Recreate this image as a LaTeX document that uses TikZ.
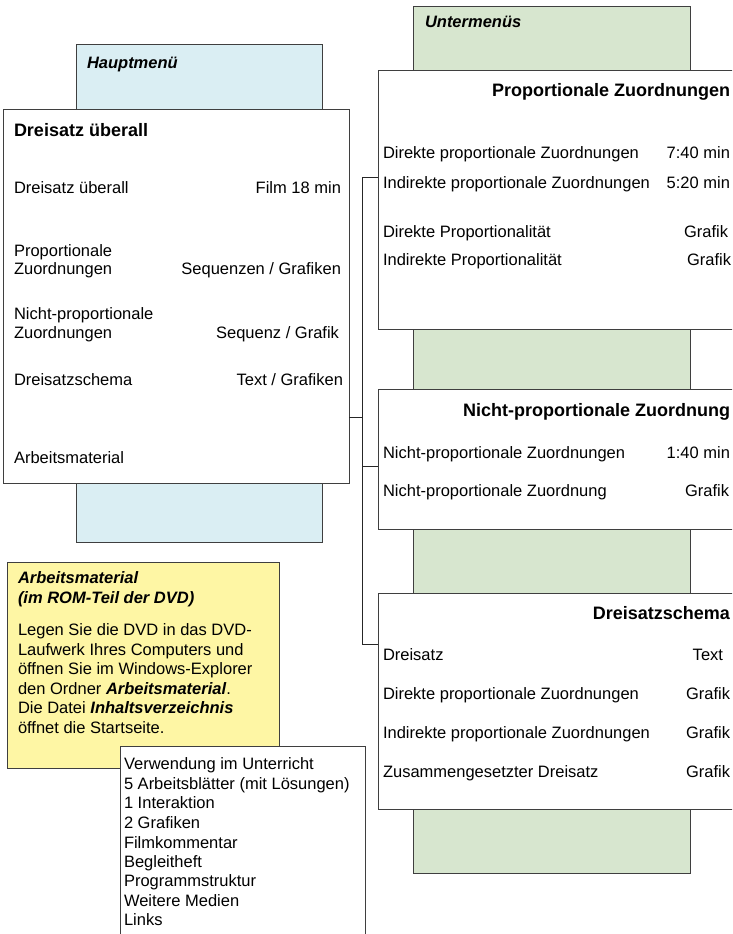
\documentclass[tikz,border=0pt]{standalone}
\usepackage{fontspec}
\setmainfont{Liberation Sans}
\definecolor{bluebg}{HTML}{DAEEF3}
\definecolor{greenbg}{HTML}{D7E6CF}
\definecolor{yellowbg}{HTML}{FEF6A4}
\definecolor{edge}{HTML}{3F3F3F}
\begin{document}
\begin{tikzpicture}[x=1pt,y=-1pt,
  frame/.style={draw=edge,line width=1pt,inner sep=0pt,outer sep=0pt,anchor=north west},
  conn/.style={draw=black!85,line width=1.1pt},
  txt/.style={inner sep=0pt,outer sep=0pt,font=\fontsize{16.5}{19.5}\selectfont},
  hd/.style={inner sep=0pt,outer sep=0pt,font=\fontsize{18}{21}\selectfont\bfseries},
  ihd/.style={inner sep=0pt,outer sep=0pt,font=\fontsize{16.5}{19.5}\selectfont\bfseries\itshape},
  L/.style={anchor=base west},
  R/.style={anchor=base east}]
\useasboundingbox (0,0) rectangle (732,934);
\clip (0,0) rectangle (732,934);

% background panels
\node[frame,fill=bluebg,minimum width=246pt,minimum height=497pt] (blue) at (76,45) {};
\node[frame,fill=greenbg,minimum width=277pt,minimum height=866pt] (green) at (413,7) {};
\node[ihd,L] (hm) at (87,68) {Hauptmenü};
\node[ihd,L] (um) at (425,28) {Untermenüs};

% main menu box
\node[frame,fill=white,minimum width=346pt,minimum height=374pt] (main) at (3,109) {};
\node[hd,L] (m0) at (14,136.5) {Dreisatz überall};
\node[txt,L] (m1) at (14,193) {Dreisatz überall};
\node[txt,R] (m1r) at (341,193) {Film 18 min};
\node[txt,L] (m2a) at (14,256) {Proportionale};
\node[txt,L] (m2b) at (14,274) {Zuordnungen};
\node[txt,R] (m2r) at (341,274) {Sequenzen / Grafiken};
\node[txt,L] (m3a) at (14,319) {Nicht-proportionale};
\node[txt,L] (m3b) at (14,338) {Zuordnungen};
\node[txt,R] (m3r) at (339,338) {Sequenz / Grafik};
\node[txt,L] (m4) at (14,385) {Dreisatzschema};
\node[txt,R] (m4r) at (343,385) {Text / Grafiken};
\node[txt,L] (m5) at (14,463) {Arbeitsmaterial};

% submenu boxes
\node[frame,fill=white,minimum width=400pt,minimum height=258pt] (b1) at (378,71) {};
\node[hd,R] (b1h) at (730,96.5) {Proportionale Zuordnungen};
\node[txt,L] (b11) at (383,158) {Direkte proportionale Zuordnungen};
\node[txt,R] (b11r) at (730,158) {7:40 min};
\node[txt,L] (b12) at (383,188) {Indirekte proportionale Zuordnungen};
\node[txt,R] (b12r) at (730,188) {5:20 min};
\node[txt,L] (b13) at (383,237) {Direkte Proportionalität};
\node[txt,R] (b13r) at (728,237) {Grafik};
\node[txt,L] (b14) at (383,265) {Indirekte Proportionalität};
\node[txt,R] (b14r) at (731,265) {Grafik};

\node[frame,fill=white,minimum width=400pt,minimum height=140pt] (b2) at (378,389) {};
\node[hd,R] (b2h) at (730,416.5) {Nicht-proportionale Zuordnung};
\node[txt,L] (b21) at (383,458) {Nicht-proportionale Zuordnungen};
\node[txt,R] (b21r) at (730,458) {1:40 min};
\node[txt,L] (b22) at (383,496) {Nicht-proportionale Zuordnung};
\node[txt,R] (b22r) at (729,496) {Grafik};

\node[frame,fill=white,minimum width=400pt,minimum height=216pt] (b3) at (378,593) {};
\node[hd,R] (b3h) at (730,619.5) {Dreisatzschema};
\node[txt,L] (b31) at (383,660) {Dreisatz};
\node[txt,R] (b31r) at (723,660) {Text};
\node[txt,L] (b32) at (383,699) {Direkte proportionale Zuordnungen};
\node[txt,R] (b32r) at (730,699) {Grafik};
\node[txt,L] (b33) at (383,738) {Indirekte proportionale Zuordnungen};
\node[txt,R] (b33r) at (730,738) {Grafik};
\node[txt,L] (b34) at (383,777) {Zusammengesetzter Dreisatz};
\node[txt,R] (b34r) at (730,777) {Grafik};

% connectors
\coordinate (j) at (362.5,417.5);
\draw[conn] (main.east |- j) -- (j);
\draw[conn] (b1.west |- 0,177.5) -| (j) |- (b3.west |- 0,644.5);
\draw[conn] (j |- 0,466.5) -- (b2.west |- 0,466.5);

% Arbeitsmaterial note
\node[frame,fill=yellowbg,minimum width=272pt,minimum height=206pt] (yel) at (7,562) {};
\node[ihd,L] (y1) at (18,583) {Arbeitsmaterial};
\node[ihd,L] (y2) at (18,603) {(im ROM-Teil der DVD)};
\node[txt,L] (y3) at (18,635) {Legen Sie die DVD in das DVD-};
\node[txt,L] (y4) at (18,655) {Laufwerk Ihres Computers und};
\node[txt,L] (y5) at (18,674) {öffnen Sie im Windows-Explorer};
\node[txt,L] (y6) at (18,694) {den Ordner \textbf{\textit{Arbeitsmaterial}}.};
\node[txt,L] (y7) at (18,713) {Die Datei \textbf{\textit{Inhaltsverzeichnis}}};
\node[txt,L] (y8) at (18,733) {öffnet die Startseite.};

% list box
\node[frame,fill=white,minimum width=245pt,minimum height=230pt] (lst) at (120,746) {};
\node[txt,L] (l1) at (124,769) {Verwendung im Unterricht};
\node[txt,L] (l2) at (124,789) {5 Arbeitsblätter (mit Lösungen)};
\node[txt,L] (l3) at (124,808) {1 Interaktion};
\node[txt,L] (l4) at (124,828) {2 Grafiken};
\node[txt,L] (l5) at (124,848) {Filmkommentar};
\node[txt,L] (l6) at (124,867) {Begleitheft};
\node[txt,L] (l7) at (124,886) {Programmstruktur};
\node[txt,L] (l8) at (124,906) {Weitere Medien};
\node[txt,L] (l9) at (124,925) {Links};
\end{tikzpicture}
\end{document}
